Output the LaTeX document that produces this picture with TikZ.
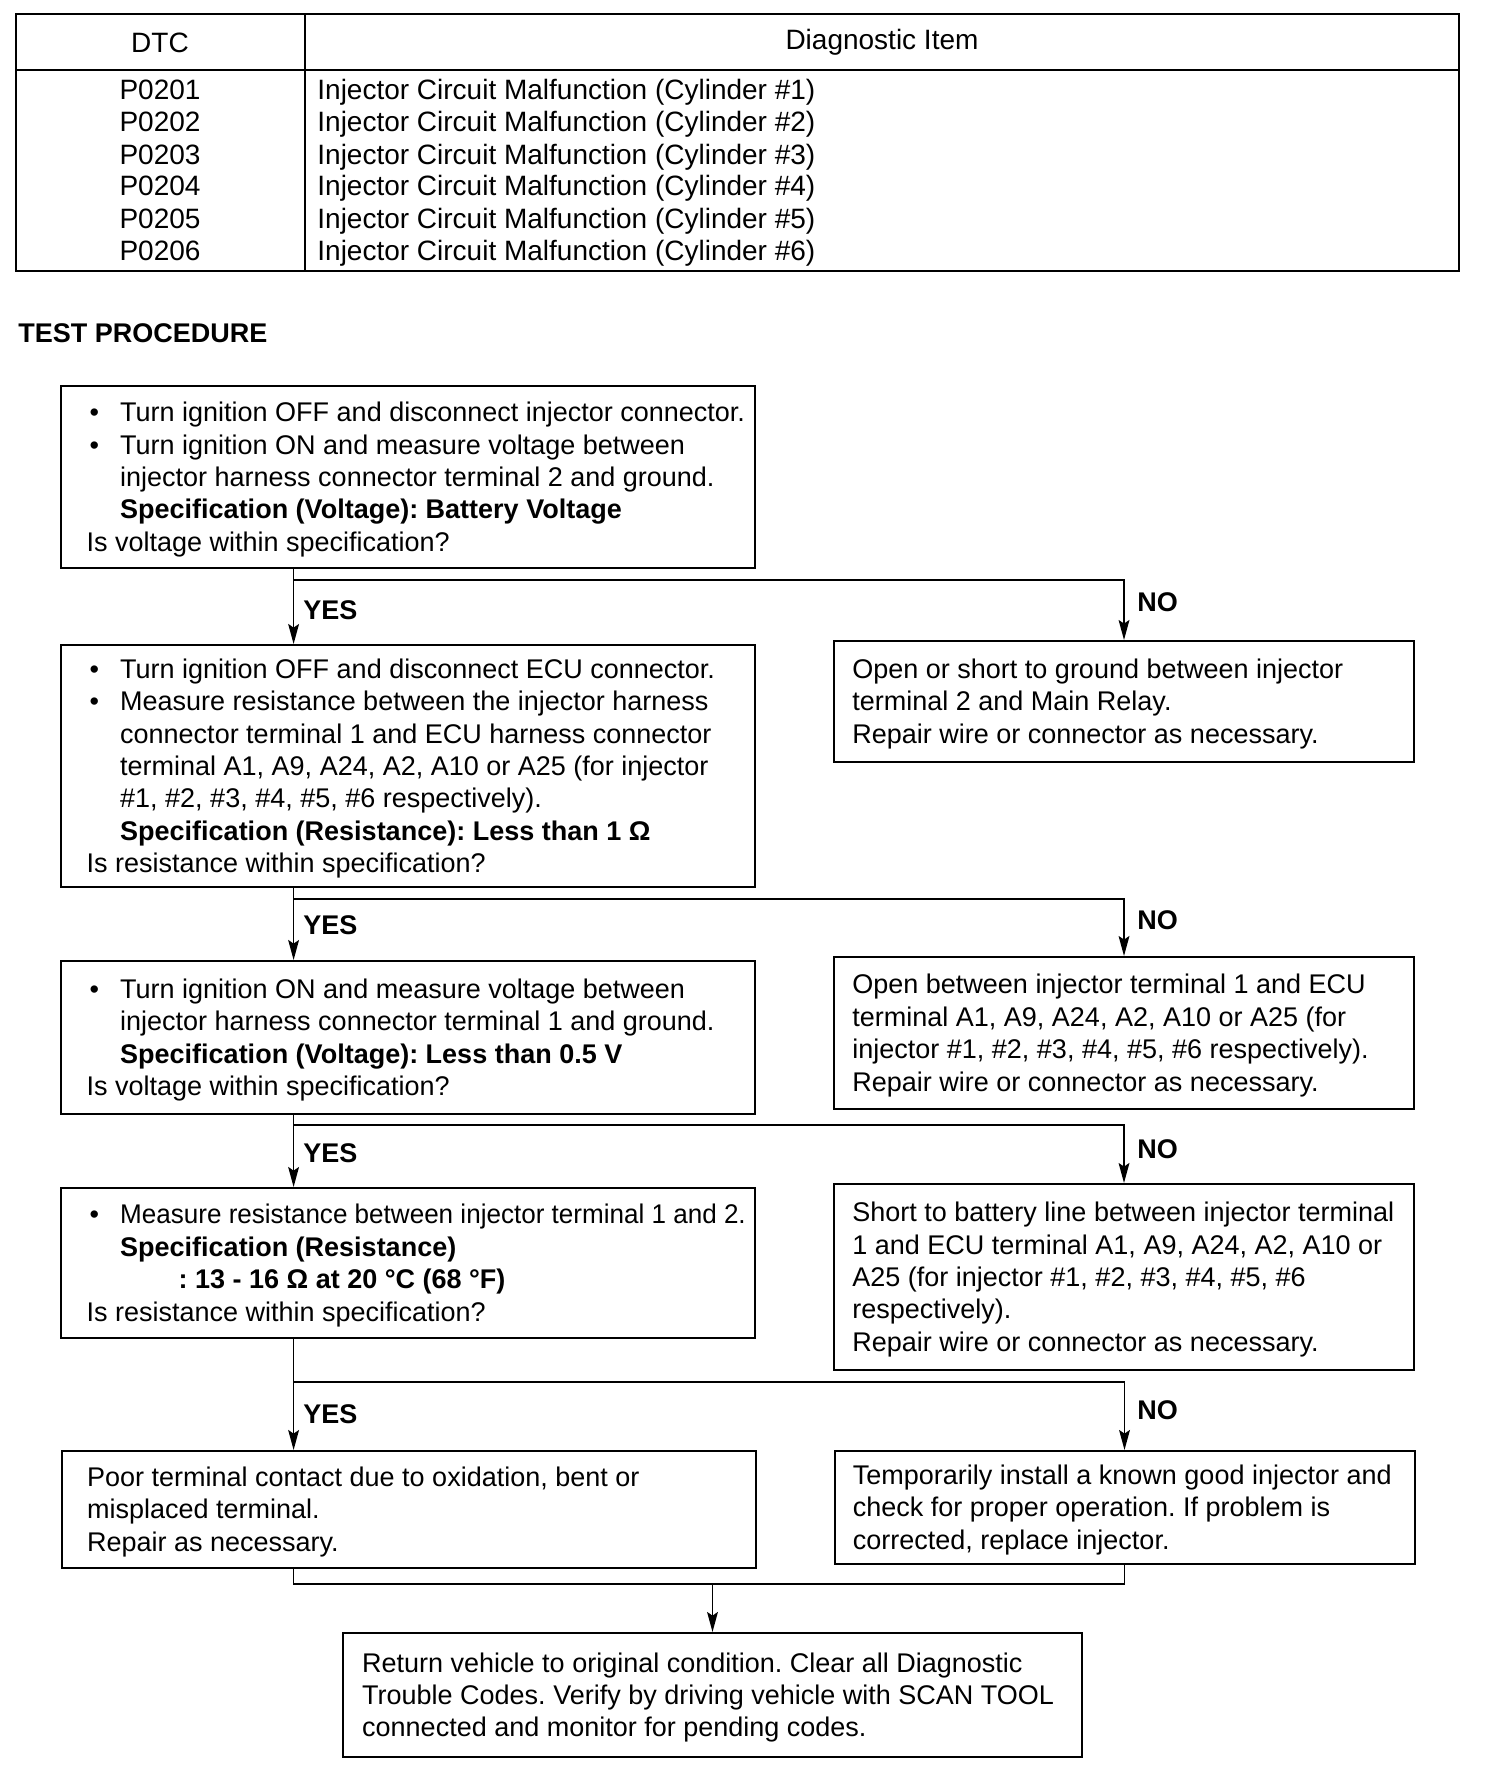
\documentclass[tikz,border=0pt]{standalone}
\usepackage{fontspec}
\setmainfont{Liberation Sans}
\usetikzlibrary{arrows.meta,calc}
\newcommand{\LBtext}[1]{\raisebox{-1.5pt}[\height][\depth]{\makebox[347pt][l]{\hspace*{12.8pt}\begin{tabular}[c]{@{}l@{}}#1\end{tabular}}}}
\newcommand{\RBtext}[1]{\raisebox{-1.5pt}[\height][\depth]{\makebox[290pt][l]{\hspace*{9.2pt}\begin{tabular}[c]{@{}l@{}}#1\end{tabular}}}}
\newcommand{\FBtext}[1]{\raisebox{-1.5pt}[\height][\depth]{\makebox[369.5pt][l]{\hspace*{9.6pt}\begin{tabular}[c]{@{}l@{}}#1\end{tabular}}}}
\newcommand{\bitem}{\makebox[16.8pt][l]{\hspace*{1.5pt}•}}
\newcommand{\cind}{\hspace*{16.8pt}}
\tikzset{
  flowbox/.style={draw, line width=1pt, inner sep=0pt, font=\fontsize{13.5}{16.2}\selectfont\frenchspacing},
  lbox/.style={flowbox, minimum width=347pt},
  rbox/.style={flowbox, minimum width=290pt},
  conn/.style={line width=0.8pt},
  arr/.style={conn, -{Stealth[length=10pt,width=5.4pt,inset=1.8pt]}},
  lab/.style={font=\fontsize{13.5}{16.2}\selectfont\bfseries, inner sep=0pt, anchor=base west},
  tbltext/.style={font=\fontsize{14}{16}\selectfont, inner sep=0pt},
  tblline/.style={line width=0.8pt},
}
\begin{document}
\frenchspacing
\begin{tikzpicture}[x=0.5pt,y=-0.5pt]
\useasboundingbox (0,0) rectangle (1504,1770);
% ---- table ----
\draw[tblline] (16,14) rectangle (1459,271);
\draw[tblline] (305,14) -- (305,271);
\draw[tblline] (16,70) -- (1459,70);
\node[tbltext, anchor=base] (hdtc) at (160,53) {DTC};
\node[tbltext, anchor=base] (hitem) at (882,50) {Diagnostic Item};
\foreach \n/\b in {1/100,2/132,3/165,4/196,5/229,6/261}{
  \node[tbltext, anchor=base] (code\n) at (160,\b) {P020\n};
  \node[tbltext, anchor=base west] (item\n) at (317,\b) {Injector Circuit Malfunction (Cylinder \#\n)};
}
\node[lab] (tp) at (18,343) {TEST PROCEDURE};
% ---- left column ----
\node[lbox, minimum height=91pt] (L1) at (408,477) {\LBtext{
\bitem Turn ignition OFF and disconnect injector connector.\\
\bitem Turn ignition ON and measure voltage between\\
\cind injector harness connector terminal 2 and ground.\\
\cind\textbf{Specification (Voltage): Battery Voltage}\\
Is voltage within specification?}};
\node[lbox, minimum height=121pt] (L2) at (408,766) {\LBtext{
\bitem Turn ignition OFF and disconnect ECU connector.\\
\bitem Measure resistance between the injector harness\\
\cind connector terminal 1 and ECU harness connector\\
\cind terminal A1, A9, A24, A2, A10 or A25 (for injector\\
\cind \#1, \#2, \#3, \#4, \#5, \#6 respectively).\\
\cind\textbf{Specification (Resistance): Less than 1 Ω}\\
Is resistance within specification?}};
\node[lbox, minimum height=76.5pt] (L3) at (408,1037.5) {\LBtext{
\bitem Turn ignition ON and measure voltage between\\
\cind injector harness connector terminal 1 and ground.\\
\cind\textbf{Specification (Voltage): Less than 0.5 V}\\
Is voltage within specification?}};
\node[lbox, minimum height=75pt] (L4) at (408,1263) {\LBtext{
\bitem\scalebox{0.965}[1]{Measure resistance between injector terminal 1 and 2.}\\
\cind\textbf{Specification (Resistance)}\\
\hspace*{46pt}\textbf{: 13 - 16 Ω at 20 °C (68 °F)}\\
Is resistance within specification?}};
\node[lbox, minimum height=58.5pt] (L5) at (408.5,1509.5) {\LBtext{
Poor terminal contact due to oxidation, bent or\\
misplaced terminal.\\
Repair as necessary.}};
% ---- right column ----
\node[rbox, minimum height=60.5pt] (R1) at (1124,701.5) {\RBtext{
Open or short to ground between injector\\
terminal 2 and Main Relay.\\
Repair wire or connector as necessary.}};
\node[rbox, minimum height=76pt] (R2) at (1124,1033) {\RBtext{
Open between injector terminal 1 and ECU\\
terminal A1, A9, A24, A2, A10 or A25 (for\\
injector \#1, \#2, \#3, \#4, \#5, \#6 respectively).\\
Repair wire or connector as necessary.}};
\node[rbox, minimum height=93pt] (R3) at (1124,1277) {\RBtext{
Short to battery line between injector terminal\\
1 and ECU terminal A1, A9, A24, A2, A10 or\\
A25 (for injector \#1, \#2, \#3, \#4, \#5, \#6\\
respectively).\\
Repair wire or connector as necessary.}};
\node[rbox, minimum height=56.5pt] (R4) at (1124.5,1507.5) {\RBtext{
Temporarily install a known good injector and\\
check for proper operation. If problem is\\
corrected, replace injector.}};
% ---- final ----
\node[flowbox, minimum width=369.5pt, minimum height=62pt] (F) at (712.5,1695) {\FBtext{
Return vehicle to original condition. Clear all Diagnostic\\
Trouble Codes. Verify by driving vehicle with SCAN TOOL\\
connected and monitor for pending codes.}};
% ---- junctions ----
\coordinate (j1) at (293.6,580);
\coordinate (j2) at (293.6,899);
\coordinate (j3) at (293.6,1125);
\coordinate (j4) at (293.6,1382);
\coordinate (m1) at (293.6,1584);
% ---- connectors ----
\draw[arr] (L1.south -| j1) -- (L2.north -| j1);
\draw[arr] (j1) -| (R1.north);
\draw[arr] (L2.south -| j2) -- (L3.north -| j2);
\draw[arr] (j2) -| (R2.north);
\draw[arr] (L3.south -| j3) -- (L4.north -| j3);
\draw[arr] (j3) -| (R3.north);
\draw[arr] (L4.south -| j4) -- (L5.north -| j4);
\draw[arr] (j4) -| (R4.north);
\draw[conn] (L5.south -| m1) -- (m1) -| (R4.south);
\draw[arr] (F.north |- m1) -- (F.north);
% ---- labels ----
\node[lab] (yes1) at (303,619) {YES};
\node[lab] (yes2) at (303,934) {YES};
\node[lab] (yes3) at (303,1162) {YES};
\node[lab] (yes4) at (303,1423) {YES};
\node[lab] (no1) at (1137,611) {NO};
\node[lab] (no2) at (1137,929) {NO};
\node[lab] (no3) at (1137,1158) {NO};
\node[lab] (no4) at (1137,1419) {NO};
\end{tikzpicture}
\end{document}
